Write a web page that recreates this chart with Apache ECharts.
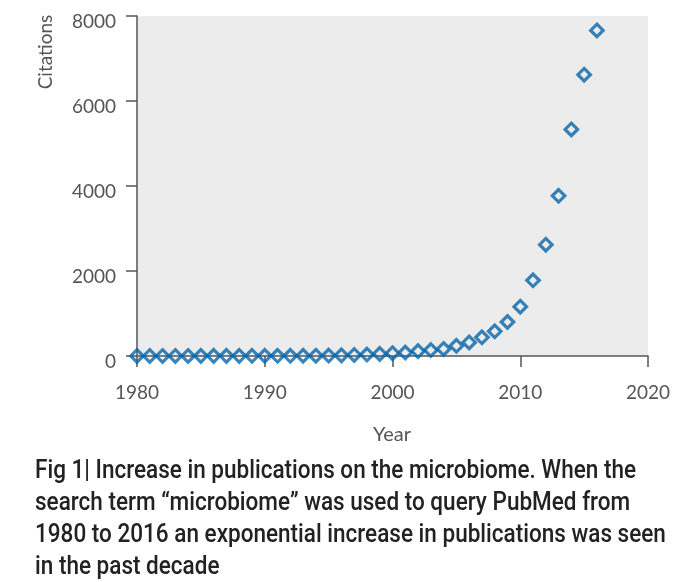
<!DOCTYPE html>
<html><head><meta charset="utf-8">
<script src="https://cdn.jsdelivr.net/npm/echarts@6/dist/echarts.min.js"></script>
<style>html,body{margin:0;padding:0;background:#fff}#c{width:690px;height:582px}</style>
</head><body><div id="c"></div>
<script>
const years = [1980,1981,1982,1983,1984,1985,1986,1987,1988,1989,1990,1991,1992,1993,1994,1995,1996,1997,1998,1999,2000,2001,2002,2003,2004,2005,2006,2007,2008,2009,2010,2011,2012,2013,2014,2015,2016];
const citations = [2,2,2,2,2,3,3,3,3,4,4,5,5,6,8,10,15,25,35,50,65,80,115,140,165,240,320,440,580,800,1160,1780,2620,3770,5330,6620,7660];
const xTicks = [1980,1990,2000,2010,2020];
const yTicks = [0,2000,4000,6000,8000];
const xName = 'Year';
const yName = 'Citations';
const captionLines = [
  'Fig 1| Increase in publications on the microbiome. When the',
  'search term \u201cmicrobiome\u201d was used to query PubMed from',
  '1980 to 2016 an exponential increase in publications was seen',
  'in the past decade'
];

const chart = echarts.init(document.getElementById('c'), null, {renderer:'canvas'});
const axisFont = {fontFamily:'Lato', fontSize:19, color:'#555'};
const capFontStr = "500 25px Roboto";
// horizontal compression so the caption fits like the condensed original
const mctx = document.createElement('canvas').getContext('2d');
mctx.font = capFontStr;
const capScale = 601 / mctx.measureText(captionLines[0]).width;

chart.setOption({
  animation:false,
  grid:{left:137, top:16, right:42, bottom:226, show:true, backgroundColor:'#ececec', borderWidth:0},
  xAxis:{type:'value', min:xTicks[0], max:xTicks[xTicks.length-1], interval:10,
    axisLine:{show:true, onZero:false, lineStyle:{color:'#555', width:1.5}},
    axisTick:{show:true, length:11, lineStyle:{color:'#555', width:1.5}},
    splitLine:{show:false},
    axisLabel:Object.assign({margin:27, formatter:v=>String(v)}, axisFont)},
  yAxis:{type:'value', min:yTicks[0], max:yTicks[yTicks.length-1], interval:2000,
    axisLine:{show:true, lineStyle:{color:'#555', width:1.5}},
    axisTick:{show:true, length:11, lineStyle:{color:'#555', width:1.5}},
    splitLine:{show:false},
    axisLabel:Object.assign({margin:21, verticalAlign:'top', lineHeight:12, formatter:v=>String(v)}, axisFont)},
  series:[{type:'scatter', data:years.map((y,i)=>[y,citations[i]]), symbol:'diamond', symbolSize:12.5,
    itemStyle:{color:'rgba(0,0,0,0)', borderColor:'#0665aa', borderWidth:3.2}, clip:false}],
  graphic:[
    {type:'text', x:392, y:435, style:{text:xName, align:'center', verticalAlign:'middle', font:"20px Lato", fill:'#555'}},
    {type:'text', x:46, y:52, rotation:Math.PI/2, style:{text:yName, align:'center', verticalAlign:'middle', font:"19px Lato", fill:'#555'}}
  ].concat(captionLines.map((t,i)=>({type:'text', x:35, y:472+i*32, scaleX:capScale, style:{text:t, align:'left', verticalAlign:'middle', font:capFontStr, fill:'#222'}})))
});
</script></body></html>
